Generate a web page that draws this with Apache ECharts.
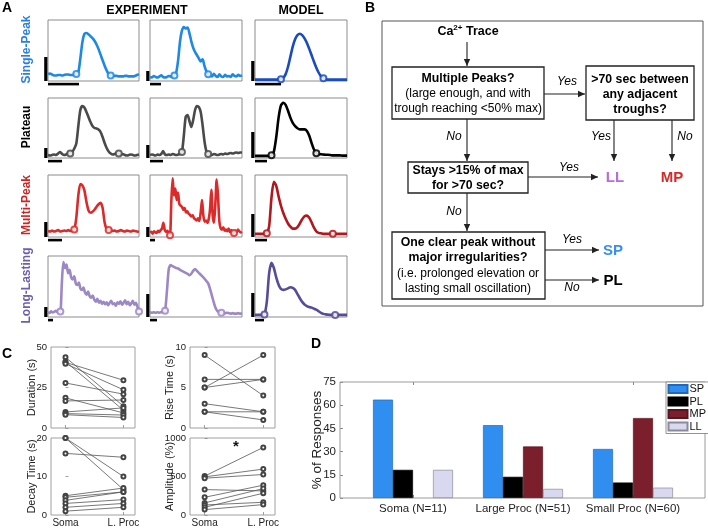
<!DOCTYPE html>
<html><head><meta charset="utf-8">
<script src="https://cdn.jsdelivr.net/npm/echarts@6/dist/echarts.min.js"></script>
<style>html,body{margin:0;padding:0;background:#fff}#c{width:708px;height:528px}</style>
</head><body><div id="c"></div>
<script>
const FONT = "'Liberation Sans', Arial, Helvetica, sans-serif";

// ---------------- Panel A: Ca2+ traces (normalised amplitude per time step) ----------------
const spExp1 = [0.06,0.07,0.05,0.03,0.03,0.04,0.04,0.03,0.04,0.05,0.05,0.04,0.04,0.05,0.06,0.1,0.4,0.75,0.93,0.95,0.92,0.88,0.84,0.78,0.70,0.60,0.48,0.36,0.24,0.14,0.06,0.03,0.02,0.02,0.02,0.01,0.01,0.01,0.02,0.02,0.01,0.01,0.01,0.02,0.04,0.06];
const spExp1Circles = [14, 31];
const spExp2 = [0.03,0.02,0.05,0.03,0.02,0.04,0.06,0.03,0.02,0.03,0.05,0.04,0.03,0.06,0.12,0.35,0.70,0.90,0.97,0.94,0.96,0.85,0.70,0.58,0.50,0.44,0.38,0.32,0.36,0.24,0.14,0.08,0.06,0.04,0.09,0.05,0.03,0.08,0.04,0.03,0.07,0.04,0.05,0.03,0.08,0.05,0.04,0.07,0.05,0.06];
const spExp2Circles = [13, 31];
const spModel = [0,0,0,0,0,0,0,0,0,0,0,0.01,0.04,0.12,0.28,0.50,0.72,0.88,0.97,1.0,0.97,0.90,0.80,0.67,0.53,0.39,0.26,0.15,0.07,0.03,0.01,0,0,0,0,0,0,0,0,0];
const spModelCircles = [11, 29];

const plExp1 = [0.02,0.01,0.02,0.03,0.02,0.05,0.08,0.04,0.02,0.03,0.06,0.05,0.08,0.15,0.25,0.60,0.92,1.0,0.97,0.88,0.78,0.68,0.60,0.56,0.55,0.53,0.48,0.38,0.26,0.16,0.09,0.05,0.03,0.04,0.06,0.05,0.03,0.04,0.02,0.01,0.02,0.03,0.02,0.01,0.02,0.03];
const plExp1Circles = [11, 35];
const plExp2 = [0.02,0.03,0.02,0.01,0.03,0.02,0.04,0.10,0.03,0.02,0.03,0.02,0.04,0.03,0.02,0.03,0.04,0.08,0.40,0.78,0.82,0.70,0.58,0.72,0.92,1.0,0.98,0.88,0.62,0.30,0.10,0.04,0.03,0.02,0.04,0.03,0.02,0.03,0.04,0.03,0.05,0.04,0.05,0.06,0.05,0.06,0.07,0.06,0.07,0.07];
const plExp2Circles = [17, 31];
const plModel = [0,0,0,0,0,0,0,0.01,0.08,0.35,0.72,0.95,1.0,0.96,0.85,0.72,0.62,0.56,0.52,0.50,0.50,0.50,0.47,0.38,0.24,0.12,0.05,0.03,0.03,0.025,0.02,0.02,0.015,0.01,0.01,0.01,0.01,0.005,0.005,0.005];
const plModelCircles = [7, 26];

const mpExp1 = [0.03,0.02,0.04,0.02,0.03,0.05,0.02,0.03,0.04,0.03,0.05,0.03,0.04,0.06,0.30,0.75,0.98,0.95,0.85,0.62,0.45,0.40,0.42,0.46,0.52,0.57,0.60,0.50,0.20,0.07,0.05,0.06,0.03,0.04,0.02,0.03,0.05,0.03,0.02,0.04,0.03,0.02,0.04,0.03,0.02,0.01];
const mpExp1Circles = [13, 30];
const mpExp2 = [0.05,0.06,0.03,0.07,0.05,0.04,0.08,0.06,0.09,0.12,0.22,0.10,0.06,0.08,0.04,0.0,0.60,1.0,0.70,0.82,0.62,0.75,0.55,0.52,0.50,0.45,0.48,0.40,0.42,0.38,0.36,0.33,0.35,0.30,0.28,0.26,0.30,0.25,0.40,0.62,0.35,0.24,0.26,0.22,0.28,0.45,0.80,0.35,0.22,0.55,0.98,0.70,0.25,0.12,0.10,0.14,0.08,0.10,0.07,0.12,0.06,0.09,0.05,0.04,0.08,0.06,0.10,0.07,0.05,0.06];
const mpExp2Circles = [15, 63];
const mpModel = [0,0,0,0,0,0.01,0.15,0.70,1.0,0.92,0.72,0.54,0.40,0.29,0.20,0.14,0.10,0.10,0.13,0.20,0.28,0.34,0.35,0.31,0.22,0.12,0.05,0.02,0.01,0,0,0,0,0,0,0,0,0,0,0];
const mpModelCircles = [5, 33];

const llExp1 = [0.02,0.0,0.03,0.01,0.02,0.04,0.02,0.05,0.03,0.6,1.0,0.88,0.95,0.78,0.85,0.70,0.66,0.72,0.58,0.55,0.60,0.48,0.45,0.50,0.40,0.36,0.42,0.33,0.30,0.34,0.26,0.22,0.28,0.20,0.24,0.18,0.22,0.17,0.21,0.15,0.20,0.24,0.17,0.19,0.14,0.21,0.18,0.23,0.16,0.20,0.25,0.17,0.22,0.15,0.19,0.24,0.16,0.20,0.12,0.03];
const llExp1Circles = [8, 59];
const llExp2 = [0.02,0.01,0.02,0.01,0.02,0.01,0.02,0.03,0.05,0.45,0.92,1.0,0.98,0.96,0.94,0.93,0.90,0.88,0.86,0.84,0.82,0.79,0.82,0.88,0.92,0.88,0.84,0.80,0.76,0.72,0.67,0.62,0.50,0.36,0.22,0.10,0.04,0.02,0.01,0.0,0.0,0.01,0.0,-0.01,0.0,-0.01,-0.01,0.0,-0.01,-0.01];
const llExp2Circles = [8, 38];
const llModel = [0,0,0,0,0.01,0.25,0.80,1.0,0.90,0.72,0.58,0.50,0.48,0.49,0.51,0.53,0.52,0.48,0.40,0.32,0.25,0.20,0.17,0.15,0.14,0.12,0.10,0.07,0.04,0.02,0.01,0.005,0,0,0,0,0,0,0,0];
const llModelCircles = [4, 34];

const rowLabels = ['Single-Peak', 'Plateau', 'Multi-Peak', 'Long-Lasting'];
const colHeaders = ['EXPERIMENT', 'MODEL'];

// ---------------- Panel C: paired soma / large-process measurements ----------------
const cCats = ['Soma', 'L. Proc'];
const durSoma  = [43.7, 41, 40.5, 39.7, 27.8, 18.6, 16.7, 9.9, 8.9, 8.2];
const durLProc = [13.5, 11, 29.5, 23.6, 20.9, 9.3, 17.3, 12.4, 8, 6.5];
const riseSoma  = [9, 6, 5, 5, 3, 2, 2];
const riseLProc = [4, 6, 9, 6, 2, 2, 1];
const decaySoma  = [20, 20, 16, 5, 4.6, 3.8, 3, 2, 1];
const decayLProc = [10, 6.6, 15, 7, 6, 6, 4, 3, 2];
const ampSoma  = [505, 495, 478, 330, 230, 157, 130, 100, 70];
const ampLProc = [878, 596, 526, 313, 387, 343, 165, 283, 135];

// ---------------- Panel D: % of responses ----------------
const dCats = ['Soma (N=11)', 'Large Proc (N=51)', 'Small Proc (N=60)'];
const dSP = [63.6, 47.1, 31.7];
const dPL = [18.2, 13.7, 10.0];
const dMP = [0, 33.3, 51.7];
const dLL = [18.2, 5.9, 6.7];
const dTicks = [0, 15, 30, 45, 60, 75];

// ================= layout / style =================
const colLeft = [48, 150, 255], colWidth = [91, 92, 92];
const rowTop = [20, 98, 175, 256], rowHeight = [61, 60, 62, 61];
const rowColors = ['#2b7fe0', '#000000', '#c62828', '#6d5eae'];

const aCells = [
  {data: spExp1, circles: spExp1Circles, r:0, c:0, color:'#1e88e5', range:[-0.09,1.23], bar:[24,31]},
  {data: spExp2, circles: spExp2Circles, r:0, c:1, color:'#1e88e5', range:[-0.045,1.10], bar:[10,11]},
  {data: spModel, circles: spModelCircles, r:0, c:2, color:'#1a4cc0', range:[-0.03,1.30], bar:[20,26]},
  {data: plExp1, circles: plExp1Circles, r:1, c:0, color:'#4a4a4a', range:[-0.04,1.16], bar:[10,14]},
  {data: plExp2, circles: plExp2Circles, r:1, c:1, color:'#4a4a4a', range:[-0.04,1.16], bar:[13,13]},
  {data: plModel, circles: plModelCircles, r:1, c:2, color:'#000000', range:[-0.04,1.09], bar:[26,12]},
  {data: mpExp1, circles: mpExp1Circles, r:2, c:0, color:'#dc2a2a', range:[-0.09,1.16], bar:[15,14]},
  {data: mpExp2, circles: mpExp2Circles, r:2, c:1, color:'#dc2a2a', range:[-0.03,1.06], bar:[10,5]},
  {data: mpModel, circles: mpModelCircles, r:2, c:2, color:'#b3161c', range:[-0.06,1.13], bar:[23,12]},
  {data: llExp1, circles: llExp1Circles, r:3, c:0, color:'#9c88c4', range:[-0.08,1.12], bar:[10,5]},
  {data: llExp2, circles: llExp2Circles, r:3, c:1, color:'#9c88c4', range:[-0.08,1.19], bar:[23,7]},
  {data: llModel, circles: llModelCircles, r:3, c:2, color:'#574c98', range:[-0.04,1.13], bar:[24,9]}
];

const cPanels = [
  {name:'Duration (s)', soma:durSoma, lproc:durLProc, min:0, max:50, interval:25, left:51, top:347, w:84, h:81, labels:false, gap:13.5},
  {name:'Rise Time (s)', soma:riseSoma, lproc:riseLProc, min:0, max:10, interval:5, left:190, top:347, w:85, h:81, labels:false, gap:14.5},
  {name:'Decay Time (s)', soma:decaySoma, lproc:decayLProc, min:0, max:20, interval:10, left:51, top:438, w:84, h:77, labels:true, gap:13.5},
  {name:'Amplitude (%)', soma:ampSoma, lproc:ampLProc, min:0, max:1000, interval:500, left:190, top:438, w:85, h:77, labels:true, gap:14.5}
];

const option = {
  animation: false,
  backgroundColor: '#fff',
  textStyle: {fontFamily: FONT},
  grid: [], xAxis: [], yAxis: [], series: [], graphic: []
};
const G = option.graphic;

function txt(x, y, s, font, color, extra) {
  G.push(Object.assign({type:'text', x, y, silent:true, z:10,
    style:{text:s, font:font, fill:color || '#000', textAlign:'center', textVerticalAlign:'middle'}}, extra || {}));
}
function line(x1,y1,x2,y2,w,c){ G.push({type:'line', silent:true, z:10, shape:{x1,y1,x2,y2}, style:{stroke:c||'#222', lineWidth:w||1.2}}); }
function box(x1,y1,x2,y2,w,c){ G.push({type:'rect', silent:true, z:10, shape:{x:x1,y:y1,width:x2-x1,height:y2-y1}, style:{fill:'none', stroke:c||'#222', lineWidth:w||1.3}}); }
function arrow(x1,y1,x2,y2){
  line(x1,y1,x2,y2,1.1,'#222');
  let pts;
  if (y1 === y2) pts = [[x2,y2],[x2-7,y2-3.2],[x2-7,y2+3.2]];
  else pts = [[x2,y2],[x2-3.2,y2-7],[x2+3.2,y2-7]];
  G.push({type:'polygon', silent:true, z:10, shape:{points:pts}, style:{fill:'#222'}});
}

// ---------- Panel A ----------
txt(7, 8, 'A', 'bold 14px ' + FONT);
txt(147, 11, colHeaders[0], 'bold 12.5px ' + FONT);
txt(301, 11, colHeaders[1], 'bold 12.5px ' + FONT);
rowLabels.forEach((s, r) => {
  txt(27, rowTop[r] + rowHeight[r]/2 - 1, s, 'bold 12px ' + FONT, rowColors[r], {rotation: Math.PI/2});
});

aCells.forEach((cell, k) => {
  const left = colLeft[cell.c], top = rowTop[cell.r], w = colWidth[cell.c], h = rowHeight[cell.r];
  option.grid.push({left, top, width:w, height:h, show:true, borderColor:'#8c8c8c', borderWidth:1,
    backgroundColor:'rgba(0,0,0,0)', outerBoundsMode:'none', containLabel:false});
  option.xAxis.push({type:'value', gridIndex:k, min:0, max:cell.data.length-1, show:false});
  option.yAxis.push({type:'value', gridIndex:k, min:cell.range[0], max:cell.range[1], show:false});
  option.series.push({type:'line', xAxisIndex:k, yAxisIndex:k, data:cell.data.map((v,i)=>[i,v]),
    showSymbol:false, symbol:'none', smooth:0.25, silent:true, z:3,
    lineStyle:{color:cell.color, width:2.6}});
  option.series.push({type:'scatter', xAxisIndex:k, yAxisIndex:k, data:cell.circles.map(i=>[i, cell.data[i]]),
    symbol:'emptyCircle', symbolSize:6, silent:true, z:4,
    itemStyle:{color:cell.color, borderColor:cell.color, borderWidth:0.8, opacity:0.85}});
  // scale bars
  G.push({type:'rect', silent:true, shape:{x:left-3.8, y:top+h-cell.bar[0], width:3.2, height:cell.bar[0]}, style:{fill:'#000'}});
  G.push({type:'rect', silent:true, shape:{x:left, y:top+h+1.8, width:cell.bar[1], height:2.6}, style:{fill:'#000'}});
});

// ---------- Panel B (flowchart) ----------
const fb = 'bold 12.3px ' + FONT, fn = '12px ' + FONT, fi = 'italic 12px ' + FONT;
txt(370, 8, 'B', 'bold 14px ' + FONT);
box(382, 21, 703, 306, 1, '#555');
G.push({type:'text', x:468, y:32, silent:true, z:10, style:{
  text:'{a|Ca}{s|2+}{a| Trace}', textAlign:'center', textVerticalAlign:'middle',
  rich:{a:{font:'bold 12.5px ' + FONT, fill:'#000', lineHeight:16},
        s:{font:'bold 8px ' + FONT, fill:'#000', verticalAlign:'top', lineHeight:16}}}});
arrow(467, 42, 467, 66);
box(392, 67, 544, 119);
txt(468, 79, 'Multiple Peaks?', fb);
txt(468, 94, '(large enough, and with', fn);
txt(468, 109, 'trough reaching <50% max)', fn);
box(586, 66, 694, 120);
txt(640, 80, '>70 sec between', fb);
txt(640, 95, 'any adjacent', fb);
txt(640, 110, 'troughs?', fb);
arrow(544, 94, 585, 94);
txt(567, 82, 'Yes', fi);
arrow(614, 120, 614, 161);
arrow(672, 120, 672, 161);
txt(601, 137, 'Yes', fi);
txt(685, 137, 'No', fi);
arrow(467, 119, 467, 161);
txt(454, 137, 'No', fi);
box(408, 162, 528, 193);
txt(468, 171, 'Stays >15% of max', fb);
txt(468, 186, 'for >70 sec?', fb);
arrow(528, 177, 598, 177);
txt(569, 168, 'Yes', fi);
txt(615, 178, 'LL', 'bold 15px ' + FONT, '#b56ee0');
txt(672, 178, 'MP', 'bold 15px ' + FONT, '#d42a2a');
arrow(467, 193, 467, 231);
txt(454, 212, 'No', fi);
box(392, 232, 545, 299);
txt(468, 243, 'One clear peak without', fb);
txt(468, 258, 'major irregularities?', fb);
txt(468, 274, '(i.e. prolonged elevation or', fn);
txt(468, 289, 'lasting small oscillation)', fn);
arrow(545, 250, 599, 250);
txt(572, 240, 'Yes', fi);
txt(613, 251, 'SP', 'bold 15px ' + FONT, '#3a8ef0');
arrow(545, 280, 599, 280);
txt(572, 288, 'No', fi);
txt(613, 281, 'PL', 'bold 15px ' + FONT, '#000');

// ---------- Panel C ----------
txt(7, 354, 'C', 'bold 14px ' + FONT);
cPanels.forEach((p, j) => {
  const k = 12 + j;
  option.grid.push({left:p.left, top:p.top, width:p.w, height:p.h, show:true, borderColor:'#a0a0a0', borderWidth:1,
    backgroundColor:'rgba(0,0,0,0)', outerBoundsMode:'none', containLabel:false});
  option.xAxis.push({type:'value', gridIndex:k, min:-0.25, max:1.2,
    axisLine:{show:false}, splitLine:{show:false},
    axisTick:{show:true, inside:true, length:3, customValues:[0,1], lineStyle:{color:'#888', width:0.8}},
    axisLabel:{show:p.labels, customValues:[0,1], margin:3, fontSize:10, color:'#222', fontFamily:FONT,
      formatter:v => (v === 0 ? cCats[0] : (v === 1 ? cCats[1] : ''))}});
  option.yAxis.push({type:'value', gridIndex:k, min:p.min, max:p.max, interval:p.interval,
    axisLine:{show:false}, splitLine:{show:false},
    axisTick:{show:true, inside:true, length:3, lineStyle:{color:'#888', width:0.8}},
    axisLabel:{fontSize:9.5, color:'#222', margin:4, fontFamily:FONT, formatter:v => String(v)},
    name:p.name, nameLocation:'middle', nameGap:p.gap, nameMoveOverlap:false,
    nameTextStyle:{fontSize:11, color:'#222', fontFamily:FONT}});
  p.soma.forEach((s, i) => {
    option.series.push({type:'line', xAxisIndex:k, yAxisIndex:k, data:[[0, s], [1, p.lproc[i]]],
      symbol:'emptyCircle', symbolSize:4, showSymbol:true, silent:true, z:3,
      lineStyle:{color:'#555', width:0.8}, itemStyle:{color:'#444', borderColor:'#444', borderWidth:0.7}});
  });
});
txt(236, 447, '*', 'bold 15px ' + FONT, '#111');

// ---------- Panel D ----------
txt(316, 344, 'D', 'bold 14px ' + FONT);
G.push({type:'rect', silent:true, z:1, shape:{x:340, y:382, width:365, height:116}, style:{fill:'none', stroke:'#9a9a9a', lineWidth:1}});
option.grid.push({left:358, top:382, width:330, height:116, outerBoundsMode:'none', containLabel:false});
option.xAxis.push({type:'category', gridIndex:16, data:dCats, position:'bottom',
  axisLine:{show:false}, splitLine:{show:false},
  axisTick:{show:true, inside:true, length:3, alignWithLabel:true, lineStyle:{color:'#888'}},
  axisLabel:{interval:0, hideOverlap:false, fontSize:11.5, color:'#222', margin:5, fontFamily:FONT}});
option.xAxis.push({type:'category', gridIndex:16, data:dCats, position:'top',
  axisLine:{show:false}, splitLine:{show:false},
  axisTick:{show:true, inside:true, length:3, alignWithLabel:true, lineStyle:{color:'#888'}},
  axisLabel:{show:false}});
option.yAxis.push({type:'value', gridIndex:16, min:dTicks[0], max:dTicks[dTicks.length-1], interval:dTicks[1]-dTicks[0],
  offset:18, axisLine:{show:false}, splitLine:{show:false},
  axisTick:{show:true, inside:true, length:3, lineStyle:{color:'#888'}},
  axisLabel:{fontSize:11.5, color:'#222', margin:4, fontFamily:FONT},
  name:'% of Responses', nameLocation:'middle', nameGap:16, nameMoveOverlap:false,
  nameTextStyle:{fontSize:13.5, color:'#222', fontFamily:FONT}});
const dSeries = [
  {name:'SP', data:dSP, color:'#2f8ef0', border:'#2468b8'},
  {name:'PL', data:dPL, color:'#000000', border:'#000000'},
  {name:'MP', data:dMP, color:'#7b1f2c', border:'#5a1520'},
  {name:'LL', data:dLL, color:'#d8d8f0', border:'#8a8a9a'}
];
dSeries.forEach(s => {
  option.series.push({type:'bar', name:s.name, xAxisIndex:16, yAxisIndex:16,
    data:s.data.map(v => (v === 0 ? '-' : v)),
    barWidth:20, barGap:'0%', silent:true, z:2,
    itemStyle:{color:s.color, borderColor:s.border, borderWidth:0.7}});
});
option.legend = {data:dSeries.map(s => s.name), orient:'vertical', left:666, top:382,
  itemWidth:19, itemHeight:8, itemGap:1.5, padding:[1.5,3,1.5,1.5], icon:'rect',
  borderColor:'#777', borderWidth:0.8, backgroundColor:'#fff', selectedMode:false,
  textStyle:{fontSize:11, color:'#111', fontFamily:FONT, lineHeight:9, padding:[0,0,0,-3]}};

const chart = echarts.init(document.getElementById('c'), null, {renderer:'canvas'});
chart.setOption(option);
</script></body></html>
